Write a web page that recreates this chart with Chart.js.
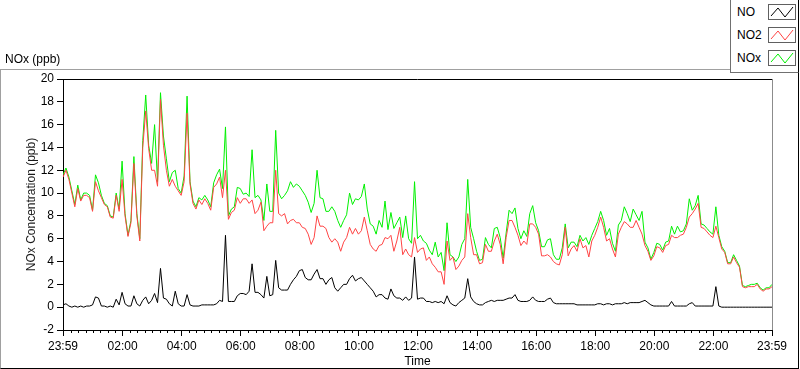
<!DOCTYPE html>
<html>
<head>
<meta charset="utf-8">
<script src="https://cdn.jsdelivr.net/npm/chart.js@4.4.1/dist/chart.umd.min.js"></script>
<style>
  html, body { margin: 0; padding: 0; background: #fff; }
  #wrap { position: relative; width: 800px; height: 369px; overflow: hidden;
          font-family: "Liberation Sans", Arial, sans-serif; color: #000; }
  #panel { position: absolute; left: 0; top: 69px; width: 797px; height: 298px;
           border-top: 1px solid #a0a0a0; border-left: 1px solid #a0a0a0;
           border-right: 1px solid #000; border-bottom: 1px solid #000; }
  #chart { position: absolute; left: 0; top: 0; }
  #unit { position: absolute; left: 5px; top: 52px; font-size: 12px; }
  #legend { position: absolute; left: 730px; top: -1px; width: 67px; height: 72px; background: #fff;
            border: 1px solid #707070; border-right-color: #000; }
  .row { position: absolute; left: 6px; width: 60px; height: 16px; font-size: 12px; }
  .row span { position: absolute; left: 0; top: 1px; }
  .row svg { position: absolute; left: 31px; top: 0; }
</style>
</head>
<body>
<div id="wrap">
  <div id="panel"></div>
  <canvas id="chart" width="800" height="369"></canvas>
  <div id="unit">NOx (ppb)</div>
  <div id="legend"></div>
</div>
<script>
// time axis: minutes after 23:59, one sample every 6 minutes
const stepMinutes = 6;
const majorTicks = [0, 121, 241, 361, 481, 601, 721, 841, 961, 1081, 1201, 1321, 1440];
const timeLabels = ['23:59', '02:00', '04:00', '06:00', '08:00', '10:00', '12:00',
                    '14:00', '16:00', '18:00', '20:00', '22:00', '23:59'];

const seriesNames = ['NO', 'NO2', 'NOx'];
const seriesColors = ['#000000', '#ff4444', '#00f000'];

const no = [
  0.2, 0.3, 0.1, 0.0, 0.1, 0.0, 0.1, 0.0, 0.1, 0.1,
  0.2, 0.9, 0.8, 0.1, 0.1, 0.0, 0.1, 0.0, 0.7, 0.2,
  1.3, 0.3, 0.1, 0.1, 1.0, 0.3, 0.1, 0.6, 0.9, 0.3,
  0.6, 1.2, 0.4, 3.4, 0.8, 0.7, 0.3, 0.1, 1.4, 0.3,
  0.1, 0.1, 1.1, 0.2, 0.1, 0.1, 0.1, 0.2, 0.2, 0.2,
  0.2, 0.2, 0.3, 0.6, 0.5, 6.3, 0.5, 0.5, 0.5, 1.0,
  1.2, 1.2, 1.1, 1.4, 3.8, 1.3, 1.3, 1.1, 0.8, 2.7,
  1.0, 1.1, 4.1, 1.7, 1.5, 1.5, 1.5, 2.0, 2.4, 2.7,
  3.2, 3.3, 2.6, 2.4, 2.4, 2.9, 3.3, 2.5, 2.5, 2.0,
  2.4, 2.6, 1.7, 1.4, 1.7, 2.0, 2.0, 2.5, 2.8, 2.3,
  2.5, 2.6, 2.3, 2.0, 1.7, 1.4, 0.9, 1.1, 1.1, 0.8,
  0.7, 1.6, 1.0, 0.8, 0.8, 0.6, 0.9, 0.6, 0.8, 4.4,
  0.7, 0.8, 0.8, 0.5, 0.5, 0.4, 0.5, 0.4, 0.5, 0.3,
  1.0, 0.4, 0.2, 0.1, 0.4, 0.6, 0.8, 2.5, 0.9, 0.5,
  0.3, 0.2, 0.2, 0.4, 0.5, 0.6, 0.5, 0.6, 0.6, 0.6,
  0.7, 0.8, 0.8, 1.1, 0.6, 0.5, 0.5, 0.5, 0.6, 0.9,
  0.6, 0.5, 0.5, 0.5, 0.7, 0.8, 0.4, 0.3, 0.3, 0.3,
  0.3, 0.3, 0.3, 0.3, 0.2, 0.2, 0.2, 0.2, 0.2, 0.2,
  0.2, 0.3, 0.3, 0.2, 0.3, 0.3, 0.2, 0.3, 0.3, 0.3,
  0.4, 0.3, 0.4, 0.4, 0.4, 0.4, 0.5, 0.6, 0.4, 0.2,
  0.1, 0.1, 0.1, 0.1, 0.1, 0.1, 0.5, 0.1, 0.1, 0.1,
  0.1, 0.1, 0.3, 0.4, 0.1, 0.1, 0.1, 0.1, 0.1, 0.1,
  0.1, 1.8, 0.1, 0.0, 0.0, 0.0, 0.0, 0.0, 0.0, 0.0,
  0.0, 0.0, 0.0, 0.0, 0.0, 0.0, 0.0, 0.0, 0.0, 0.0,
  0.0
];

const no2 = [
  11.4, 12.0, 11.2, 10.0, 8.8, 10.4, 9.3, 9.8, 9.8, 9.6,
  8.4, 11.0, 10.2, 9.6, 9.0, 8.8, 7.9, 7.8, 9.8, 8.4,
  11.2, 8.0, 6.2, 7.4, 12.6, 8.0, 5.8, 14.0, 17.2, 13.9,
  12.0, 12.0, 10.6, 18.2, 14.2, 12.0, 10.6, 11.2, 10.6, 10.2,
  9.8, 11.0, 17.0, 10.8, 9.1, 8.6, 9.4, 9.0, 9.5, 9.1,
  8.5, 10.5, 10.8, 11.4, 9.6, 12.0, 7.7, 8.3, 8.5, 9.6,
  9.1, 9.5, 9.5, 9.1, 9.4, 8.2, 8.5, 9.2, 6.7, 7.1,
  7.4, 7.4, 12.0, 8.2, 8.0, 8.2, 7.3, 7.6, 7.7, 7.4,
  7.4, 7.0, 6.9, 6.4, 5.5, 6.1, 8.0, 7.1, 7.1, 6.9,
  6.1, 5.7, 6.0, 5.7, 4.9, 5.7, 6.1, 7.0, 6.4, 6.9,
  6.4, 6.7, 7.9, 6.7, 5.5, 5.1, 4.9, 5.4, 5.5, 6.1,
  6.0, 6.3, 4.9, 5.8, 7.0, 4.6, 5.1, 4.6, 4.4, 6.1,
  4.8, 5.1, 5.2, 4.1, 4.4, 3.8, 3.5, 3.1, 3.1, 2.0,
  5.8, 4.1, 4.4, 3.3, 3.6, 4.1, 4.4, 8.2, 6.1, 4.6,
  4.6, 3.8, 3.9, 5.5, 4.9, 4.9, 5.8, 6.4, 5.5, 3.8,
  6.1, 7.6, 7.6, 7.0, 6.3, 5.4, 5.8, 5.5, 7.3, 7.3,
  7.0, 6.4, 4.5, 4.5, 4.6, 4.4, 4.0, 3.8, 3.7, 4.6,
  7.0, 4.5, 5.1, 5.4, 4.9, 6.0, 5.2, 5.4, 4.4, 5.8,
  6.3, 7.0, 7.9, 7.0, 5.8, 6.0, 5.1, 4.4, 6.4, 7.0,
  7.5, 7.3, 7.0, 7.0, 7.6, 7.0, 6.4, 5.4, 4.9, 4.1,
  4.5, 5.3, 5.2, 4.8, 5.4, 5.5, 6.3, 6.1, 6.1, 6.3,
  6.4, 7.0, 7.9, 8.2, 8.6, 9.1, 7.0, 6.9, 6.6, 6.3,
  6.1, 7.1, 6.1, 5.1, 4.8, 3.8, 3.8, 4.4, 3.9, 3.5,
  1.8, 1.7, 1.8, 1.8, 1.8, 2.0, 1.6, 1.4, 1.6, 1.6,
  1.8
];

const nox = [
  11.6, 12.2, 11.4, 10.2, 9.0, 10.7, 9.4, 10.0, 10.0, 9.8,
  8.5, 11.6, 10.9, 9.8, 9.1, 8.9, 8.0, 7.9, 10.0, 8.6,
  12.8, 8.2, 6.3, 7.6, 13.2, 8.2, 6.0, 14.6, 18.6, 14.2,
  12.6, 16.0, 11.0, 18.8, 15.0, 13.0, 11.0, 11.8, 12.0, 10.4,
  10.0, 11.5, 18.5, 11.0, 9.3, 8.8, 9.6, 9.4, 9.8, 9.4,
  8.8, 10.9, 11.6, 12.1, 10.4, 15.8, 8.0, 8.6, 8.8, 10.5,
  10.4, 9.9, 10.0, 9.7, 13.8, 9.6, 9.8, 9.4, 7.6, 10.8,
  8.4, 8.4, 15.5, 10.0, 9.5, 9.8, 10.2, 11.0, 10.5, 10.8,
  10.6, 10.2, 9.8, 9.2, 8.3, 9.1, 12.0, 9.6, 9.5, 8.4,
  8.4, 8.8, 8.4, 7.6, 7.0, 7.6, 8.1, 10.0, 9.0, 9.5,
  9.4, 9.7, 10.8, 8.6, 7.3, 7.1, 6.4, 7.6, 7.0, 9.3,
  6.8, 8.3, 6.9, 7.4, 7.9, 6.1, 8.0, 6.0, 5.6, 11.0,
  6.0, 6.3, 5.8, 5.6, 5.0, 4.6, 5.7, 4.4, 4.8, 3.2,
  7.4, 4.6, 4.4, 4.0, 4.4, 5.5, 6.0, 11.2, 7.0, 6.0,
  4.9, 4.1, 4.2, 6.1, 5.5, 5.2, 6.9, 7.0, 6.1, 4.3,
  6.5, 8.5, 8.2, 8.7, 6.9, 6.0, 6.7, 6.2, 8.2, 8.9,
  7.4, 6.7, 5.3, 5.3, 5.9, 6.0, 4.6, 4.2, 4.2, 5.2,
  7.3, 5.2, 5.7, 5.7, 5.3, 6.3, 5.8, 6.1, 5.5, 6.3,
  6.9, 7.5, 8.4, 7.6, 6.3, 6.9, 5.6, 4.9, 7.2, 7.6,
  8.8, 8.2, 7.5, 8.6, 8.1, 7.6, 8.4, 5.7, 5.2, 4.2,
  4.8, 5.6, 5.5, 5.0, 5.7, 5.8, 7.1, 6.4, 7.1, 6.6,
  6.7, 7.3, 9.5, 8.5, 8.9, 9.8, 7.3, 7.2, 6.9, 6.6,
  6.4, 8.8, 6.3, 5.3, 4.9, 3.9, 3.9, 4.6, 4.1, 3.6,
  1.9, 1.8, 1.9, 2.0, 2.0, 2.1, 1.7, 1.5, 1.7, 1.7,
  2.0
];

const minutes = no2.map((_, i) => i * stepMinutes);
const axisFont = { family: '"Liberation Sans", Arial, sans-serif', size: 12 };

// legend, built like the LabVIEW plot legend: name then a little line swatch
const legendEl = document.getElementById('legend');
seriesNames.forEach((name, i) => {
  const row = document.createElement('div');
  row.className = 'row';
  row.style.top = (4 + i * 23) + 'px';
  row.innerHTML = '<span>' + name + '</span>' +
    '<svg width="28" height="16"><rect x="0.5" y="0.5" width="27" height="15" fill="#fff" stroke="#606060"/>' +
    '<polyline points="3,12 10,4 17,13 25,3" fill="none" stroke="' + seriesColors[i] + '" stroke-width="1"/></svg>';
  legendEl.appendChild(row);
});

// minor time ticks every 15 min plus the plot frame (black top, grey right)
const frameAndMinorTicks = {
  id: 'frameAndMinorTicks',
  afterDraw(chart) {
    const { ctx, chartArea: a, scales: { x } } = chart;
    ctx.save();
    ctx.lineWidth = 1;
    ctx.strokeStyle = '#000';
    ctx.beginPath();
    for (let t = 1; t < 1440; t += 15) {
      if ((t - 1) % 120 === 0) continue;
      const px = Math.round(x.getPixelForValue(t)) + 0.5;
      ctx.moveTo(px, a.bottom);
      ctx.lineTo(px, a.bottom + 3);
    }
    ctx.moveTo(a.left, a.top + 0.5);
    ctx.lineTo(a.right, a.top + 0.5);
    ctx.stroke();
    ctx.strokeStyle = '#8c8c8c';
    ctx.beginPath();
    ctx.moveTo(a.right + 0.5, a.top);
    ctx.lineTo(a.right + 0.5, a.bottom);
    ctx.stroke();
    ctx.restore();
  }
};

new Chart(document.getElementById('chart').getContext('2d'), {
  type: 'line',
  data: {
    labels: minutes,
    datasets: [
      { label: seriesNames[0], data: no, borderColor: seriesColors[0] },
      { label: seriesNames[1], data: no2, borderColor: seriesColors[1] },
      { label: seriesNames[2], data: nox, borderColor: seriesColors[2] }
    ]
  },
  options: {
    responsive: false,
    animation: false,
    layout: { padding: { top: 79, right: 28, left: 0, bottom: 0 } },
    elements: {
      point: { radius: 0 },
      line: { borderWidth: 1, tension: 0, fill: false }
    },
    plugins: {
      legend: { display: false },
      tooltip: { enabled: false }
    },
    scales: {
      x: {
        type: 'linear',
        min: 0,
        max: 1440,
        afterFit: (scale) => { scale.height = 39; },
        afterBuildTicks: (scale) => { scale.ticks = majorTicks.map(v => ({ value: v })); },
        ticks: {
          autoSkip: false,
          maxRotation: 0,
          minRotation: 0,
          padding: 3,
          color: '#000',
          font: axisFont,
          callback: (value, index) => timeLabels[index]
        },
        grid: { drawOnChartArea: false, tickLength: 6, color: '#000' },
        border: { color: '#000' },
        title: { display: true, text: 'Time', color: '#000', font: axisFont, padding: 0 }
      },
      y: {
        min: -2,
        max: 20,
        afterFit: (scale) => { scale.width = 63; },
        ticks: { stepSize: 2, padding: 3, color: '#000', font: axisFont },
        grid: { drawOnChartArea: false, tickLength: 6, color: '#000' },
        border: { color: '#000' },
        title: {
          display: true,
          text: 'NOx Concentration (ppb)',
          color: '#1a1a1a',
          font: axisFont,
          padding: { top: 24, bottom: 0 }
        }
      }
    }
  },
  plugins: [frameAndMinorTicks]
});
</script>
</body>
</html>
